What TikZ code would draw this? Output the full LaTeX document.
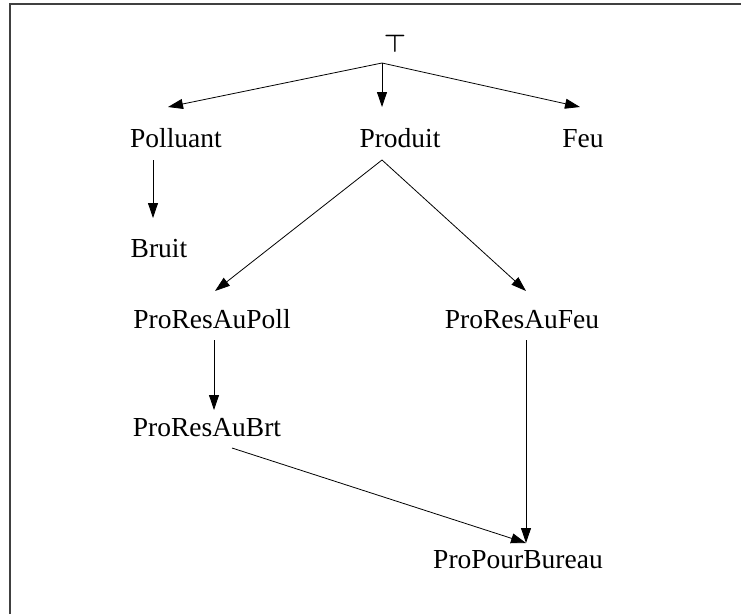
\documentclass[tikz,border=0pt]{standalone}
\usepackage{fontspec}
\usepackage{bm}
\setmainfont{Liberation Serif}
\usetikzlibrary{arrows.meta}
\begin{document}
\begin{tikzpicture}[x=1pt,y=-1pt,
  lbl/.style={anchor=base,inner sep=0pt,font=\fontsize{27.5}{30}\selectfont},
  edge/.style={line width=0.8pt,-{Triangle[length=15pt,width=10pt]}},
  frame/.style={line width=1.6pt,black!75}]
\useasboundingbox (0,0) rectangle (741,614);
\draw[frame] (10,614) -- (10,4) -- (741,4);
% nodes
\node[lbl,font=\fontsize{31}{34}\selectfont] (top) at (395,52) {$\bm{\top}$};
\node[lbl] (Polluant) at (176,147) {Polluant};
\node[lbl] (Produit) at (400,147) {Produit};
\node[lbl] (Feu) at (583,147) {Feu};
\node[lbl] (Bruit) at (159,257) {Bruit};
\node[lbl] (ProResAuPoll) at (212,328) {ProResAuPoll};
\node[lbl] (ProResAuFeu) at (522,328) {ProResAuFeu};
\node[lbl] (ProResAuBrt) at (207,436) {ProResAuBrt};
\node[lbl] (ProPourBureau) at (518,568) {ProPourBureau};
% ports
\coordinate (topOut) at (382,63);
\coordinate (PolluantIn) at (168,107);
\coordinate (ProduitIn) at (382,107);
\coordinate (FeuIn) at (580,107);
\coordinate (PolluantOut) at (153,160);
\coordinate (BruitIn) at (153,218);
\coordinate (ProduitOut) at (382,160);
\coordinate (ProResAuPollIn) at (215,291);
\coordinate (ProResAuFeuIn) at (526,291);
\coordinate (ProResAuPollOut) at (214,340);
\coordinate (ProResAuBrtIn) at (214,410);
\coordinate (ProResAuFeuOut) at (526,340);
\coordinate (ProResAuBrtOut) at (232,448);
\coordinate (ProPourBureauIn) at (526,543);
% edges
\draw[edge] (topOut) -- (PolluantIn);
\draw[edge] (topOut) -- (ProduitIn);
\draw[edge] (topOut) -- (FeuIn);
\draw[edge] (PolluantOut) -- (BruitIn);
\draw[edge] (ProduitOut) -- (ProResAuPollIn);
\draw[edge] (ProduitOut) -- (ProResAuFeuIn);
\draw[edge] (ProResAuPollOut) -- (ProResAuBrtIn);
\draw[edge] (ProResAuFeuOut) -- (ProPourBureauIn);
\draw[edge] (ProResAuBrtOut) -- (ProPourBureauIn);
\end{tikzpicture}
\end{document}
